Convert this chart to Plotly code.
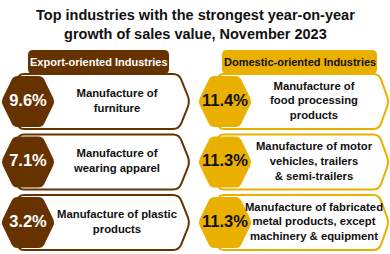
import plotly.graph_objects as go

# ---- data ----
export_values = [9.6, 7.1, 3.2]
export_labels = ["Manufacture of<br>furniture",
                 "Manufacture of<br>wearing apparel",
                 "Manufacture of plastic<br>products"]
domestic_values = [11.4, 11.3, 11.3]
domestic_labels = ["Manufacture of<br>food processing<br>products",
                   "Manufacture of motor<br>vehicles, trailers<br>& semi-trailers",
                   "Manufacture of fabricated<br>metal products, except<br>machinery & equipment"]
group_titles = ["Export-oriented Industries", "Domestic-oriented Industries"]
title_text = "Top industries with the strongest year-on-year<br>growth of sales value, November 2023"

# ---- style ----
BROWN = "#663300"
GOLD = "#EAB000"
FONT = "Liberation Sans, Arial, sans-serif"
W, H = 390, 254

row_tops = [74, 134.5, 195]
card_h = 55


def rounded_path(pts, r):
    n = len(pts)
    segs = []
    for i in range(n):
        p0 = pts[i - 1]
        p1 = pts[i]
        p2 = pts[(i + 1) % n]
        def toward(a, b, d):
            dx, dy = b[0] - a[0], b[1] - a[1]
            L = (dx * dx + dy * dy) ** 0.5
            d = min(d, L / 2)
            return (a[0] + dx / L * d, a[1] + dy / L * d)
        a = toward(p1, p0, r)
        b = toward(p1, p2, r)
        if i == 0:
            segs.append(f"M{a[0]:.2f},{a[1]:.2f}")
        else:
            segs.append(f"L{a[0]:.2f},{a[1]:.2f}")
        segs.append(f"Q{p1[0]:.2f},{p1[1]:.2f} {b[0]:.2f},{b[1]:.2f}")
    segs.append("Z")
    return " ".join(segs)


shapes = []
columns = [
    dict(card_x0=18, card_x1=179, tip=190, hex_cx=28, text_cx=117, tab=(28, 169),
         color=BROWN, pct_color="white", tab_text_color="white",
         values=export_values, labels=export_labels, title=group_titles[0]),
    dict(card_x0=218, card_x1=379, tip=389, hex_cx=225, text_cx=314, tab=(222, 377),
         color=GOLD, pct_color="#111111", tab_text_color="#111111",
         values=domestic_values, labels=domestic_labels, title=group_titles[1]),
]

fig = go.Figure()
annotations = []

for col in columns:
    # header tab
    tx0, tx1 = col["tab"]
    tab_pts = [(tx0, 74), (tx0, 50), (tx1, 50), (tx1, 74)]
    shapes.append(dict(type="path", path=rounded_path(tab_pts, 5), xref="x", yref="y",
                       fillcolor=col["color"], line=dict(width=0), layer="below"))
    annotations.append(dict(x=(tx0 + tx1) / 2, y=62, xref="x", yref="y", showarrow=False,
                            text=f"<b>{col['title']}</b>",
                            font=dict(family=FONT, size=11, color=col["tab_text_color"])))
    cys = []
    for top in row_tops:
        cy = top + card_h / 2
        cys.append(cy)
        pts = [(col["card_x0"], top), (col["card_x1"], top), (col["tip"], cy),
               (col["card_x1"], top + card_h), (col["card_x0"], top + card_h)]
        shapes.append(dict(type="path", path=rounded_path(pts, 6), xref="x", yref="y",
                           fillcolor="white", line=dict(color=col["color"], width=2),
                           layer="below"))
    for cy in cys:
        cx = col["hex_cx"]
        hpts = [(cx - 27, cy), (cx - 14.5, cy - 25.5), (cx + 14.5, cy - 25.5),
                (cx + 27, cy), (cx + 14.5, cy + 25.5), (cx - 14.5, cy + 25.5)]
        shapes.append(dict(type="path", path=rounded_path(hpts, 4), xref="x", yref="y",
                           fillcolor=col["color"], line=dict(width=0), layer="below"))
    fig.add_trace(go.Scatter(
        x=[col["hex_cx"]] * len(col["values"]), y=cys, mode="text",
        text=[f"<b>{v:.1f}%</b>" for v in col["values"]],
        textfont=dict(family=FONT, size=16.5, color=col["pct_color"]),
        hoverinfo="skip", showlegend=False))
    fig.add_trace(go.Scatter(
        x=[col["text_cx"]] * len(col["labels"]), y=cys, mode="text",
        text=[f"<b>{t}</b>" for t in col["labels"]],
        textfont=dict(family=FONT, size=11.3, color="#111111"),
        hoverinfo="skip", showlegend=False))

annotations.append(dict(x=195, y=24, xref="x", yref="y", showarrow=False,
                        text=f"<b>{title_text}</b>",
                        font=dict(family=FONT, size=14.5, color="#111111")))

fig.update_layout(
    width=W, height=H, margin=dict(l=0, r=0, t=0, b=0),
    paper_bgcolor="white", plot_bgcolor="white",
    xaxis=dict(range=[0, W], visible=False, fixedrange=True),
    yaxis=dict(range=[H, 0], visible=False, fixedrange=True),
    shapes=shapes, annotations=annotations,
)
fig.write_html("out.html", config={"displayModeBar": False},
               post_script="document.body.style.margin='0';document.body.style.overflow='hidden';")
